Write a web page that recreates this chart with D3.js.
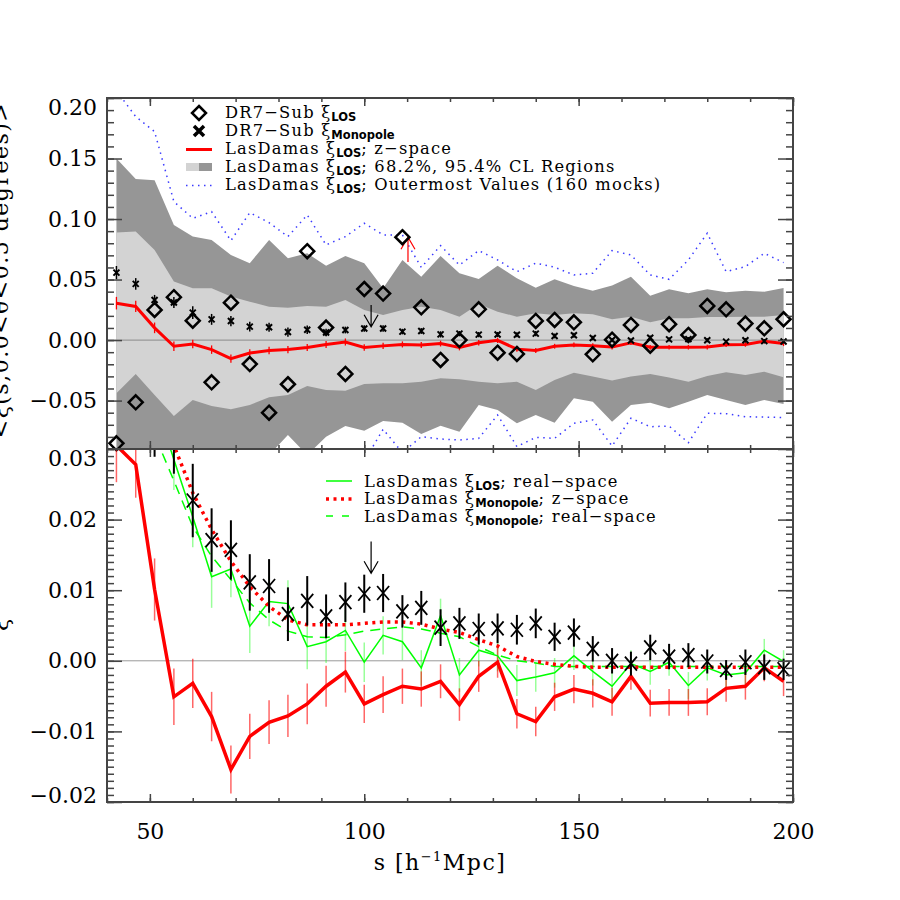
<!DOCTYPE html>
<html>
<head>
<meta charset="utf-8">
<script src="https://cdnjs.cloudflare.com/ajax/libs/d3/7.8.5/d3.min.js"></script>
<style>
  body { margin: 0; background: #fff; }
  svg text { font-family: "DejaVu Serif", serif; fill: #000; }
  .axis .tick line { stroke: #444; stroke-width: 1.5; }
  .axis .tick text { font-size: 22px; font-family: "DejaVu Serif", serif; }
</style>
</head>
<body>
<div class="chart"></div>
<script>
// bin centres in s [h^-1 Mpc]
var sBins = [42.2, 46.7, 51.1, 55.6, 60.0, 64.4, 68.9, 73.3, 77.8, 82.2, 86.7, 91.1,
    95.6, 100.0, 104.4, 108.9, 113.3, 117.8, 122.2, 126.7, 131.1, 135.6, 140.0, 144.4,
    148.9, 153.3, 157.8, 162.2, 166.7, 171.1, 175.6, 180.0, 184.4, 188.9, 193.3, 197.8];

// DR7-Sub xi_LOS (diamonds)
var dr7Los = [-0.0853, -0.0514, 0.0249, 0.0354, 0.0160, -0.0349, 0.0309, -0.0198, -0.0600,
    -0.0365, 0.0734, 0.0103, -0.0280, 0.0422, 0.0384, 0.0850, 0.0271, -0.0164, 0.0000,
    0.0254, -0.0104, -0.0115, 0.0158, 0.0166, 0.0147, -0.0118, 0.0003, 0.0125, -0.0046,
    0.0131, 0.0042, 0.0282, 0.0254, 0.0136, 0.0097, 0.0172];

// DR7-Sub xi_Monopole (crosses) + errors
var dr7Mono = [0.0557, 0.0464, 0.0331, 0.0310, 0.0227, 0.0171, 0.0157, 0.0111, 0.0106,
    0.0066, 0.0085, 0.0063, 0.0083, 0.0095, 0.0096, 0.0070, 0.0075, 0.0047, 0.0053,
    0.0045, 0.0046, 0.0044, 0.0053, 0.0034, 0.0040, 0.0017, 0.0000, -0.0004, 0.0019,
    0.0006, 0.0008, -0.0001, -0.0013, -0.0002, -0.0009, -0.0012];
var dr7MonoErr = [0.0055, 0.0048, 0.0042, 0.0045, 0.0052, 0.0045, 0.0042, 0.0040, 0.0038,
    0.0038, 0.0035, 0.0031, 0.0028, 0.0027, 0.0027, 0.0023, 0.0024, 0.0026, 0.0022,
    0.0022, 0.0021, 0.0021, 0.0021, 0.0020, 0.0020, 0.0018, 0.0018, 0.0017, 0.0018,
    0.0018, 0.0017, 0.0017, 0.0014, 0.0018, 0.0018, 0.0015];

// LasDamas xi_LOS z-space (red solid) + errors
var ldLosZ = [0.0305, 0.0278, 0.0101, -0.0051, -0.0032, -0.0079, -0.0154, -0.0107, -0.0087,
    -0.0078, -0.0061, -0.0036, -0.0016, -0.0061, -0.0048, -0.0036, -0.0040, -0.0029,
    -0.0062, -0.0022, -0.0002, -0.0075, -0.0086, -0.0051, -0.0040, -0.0046, -0.0058,
    -0.0022, -0.0060, -0.0059, -0.0059, -0.0058, -0.0039, -0.0036, -0.0010, -0.0029];
var ldLosZErr = [0.0052, 0.0047, 0.0044, 0.0040, 0.0035, 0.0035, 0.0034, 0.0032, 0.0031,
    0.0030, 0.0029, 0.0029, 0.0029, 0.0027, 0.0026, 0.0025, 0.0025, 0.0024, 0.0023,
    0.0022, 0.0022, 0.0021, 0.0021, 0.0020, 0.0020, 0.0020, 0.0020, 0.0019, 0.0019,
    0.0019, 0.0019, 0.0019, 0.0019, 0.0019, 0.0019, 0.0021];

// LasDamas xi_LOS real-space (green solid) + errors
var ldLosReal = [0.060, 0.048, 0.037, 0.0285, 0.0204, 0.0119, 0.0130, 0.0049, 0.0084,
    0.0081, 0.0020, 0.0027, 0.0043, -0.0002, 0.0036, 0.0027, -0.0010, 0.0064, -0.0020,
    0.0015, 0.0007, -0.0028, -0.0023, -0.0017, 0.0007, -0.0015, -0.0036, -0.0004,
    -0.0015, -0.0002, -0.0035, -0.0010, -0.0020, -0.0017, 0.0015, -0.0001];
var ldLosRealErr = [0.0055, 0.0050, 0.0046, 0.0043, 0.0043, 0.0044, 0.0040, 0.0038, 0.0035,
    0.0033, 0.0032, 0.0030, 0.0029, 0.0028, 0.0027, 0.0026, 0.0025, 0.0024, 0.0024,
    0.0023, 0.0022, 0.0022, 0.0021, 0.0021, 0.0020, 0.0020, 0.0020, 0.0019, 0.0019,
    0.0019, 0.0019, 0.0018, 0.0018, 0.0017, 0.0016, 0.0016];

// LasDamas monopole z-space (red dotted) and real-space (green dashed)
var ldMonoZ = [0.065, 0.050, 0.039, 0.0305, 0.0238, 0.0186, 0.0141, 0.0105, 0.0077,
    0.0058, 0.0051, 0.0051, 0.0051, 0.0053, 0.0055, 0.0055, 0.0052, 0.0045, 0.0040,
    0.0030, 0.0021, 0.0006, -0.0001, -0.0005, -0.0008, -0.0009, -0.0009, -0.0009,
    -0.0009, -0.0009, -0.0009, -0.0009, -0.0009, -0.0009, -0.0009, -0.0009];
var ldMonoReal = [0.055, 0.042, 0.032, 0.0255, 0.0190, 0.0148, 0.0115, 0.0082, 0.0058,
    0.0042, 0.0034, 0.0033, 0.0037, 0.0042, 0.0045, 0.0048, 0.0045, 0.0039, 0.0034,
    0.0020, 0.0008, 0.0000, -0.0003, -0.0008, -0.0008, -0.0008, -0.0008, -0.0008,
    -0.0008, -0.0008, -0.0008, -0.0008, -0.0008, -0.0008, -0.0008, -0.0008];

// LasDamas xi_LOS CL regions (top panel)
var band95Hi = [0.150, 0.133, 0.132, 0.095, 0.0855, 0.0827, 0.0703, 0.0635, 0.0827, 0.0676,
    0.0717, 0.0615, 0.0695, 0.0635, 0.0428, 0.0662, 0.0524, 0.0695, 0.0552, 0.0505, 0.0615,
    0.0511, 0.0433, 0.0502, 0.0447, 0.0408, 0.0450, 0.0524, 0.0367, 0.0420, 0.0387, 0.0420,
    0.0395, 0.0408, 0.0400, 0.0431];
var band68Hi = [0.0888, 0.0896, 0.0745, 0.0483, 0.0428, 0.0428, 0.0359, 0.0317, 0.0276,
    0.0268, 0.0282, 0.0276, 0.0331, 0.0249, 0.0207, 0.0249, 0.0276, 0.0249, 0.0193, 0.0298,
    0.0235, 0.0193, 0.0221, 0.0207, 0.0221, 0.0213, 0.0172, 0.0193, 0.0147, 0.0180, 0.0180,
    0.0190, 0.0190, 0.0193, 0.0193, 0.0207];
var band68Lo = [-0.0440, -0.0280, -0.0454, -0.0627, -0.0495, -0.0545, -0.0572, -0.0536,
    -0.0473, -0.0454, -0.0380, -0.0412, -0.0418, -0.0363, -0.0357, -0.0357, -0.0344,
    -0.0316, -0.0324, -0.0344, -0.0357, -0.0344, -0.0412, -0.0330, -0.0269, -0.0302,
    -0.0335, -0.0302, -0.0280, -0.0310, -0.0344, -0.0297, -0.0266, -0.0288, -0.0261, -0.0307];
var band95Lo = [-0.100, -0.100, -0.100, -0.100, -0.100, -0.100, -0.100, -0.100, -0.095,
    -0.0785, -0.095, -0.0798, -0.0710, -0.0749, -0.0669, -0.0683, -0.0776, -0.0707, -0.0757,
    -0.0536, -0.0578, -0.0688, -0.0619, -0.0683, -0.0481, -0.0509, -0.0674, -0.0536,
    -0.0517, -0.0564, -0.0509, -0.0454, -0.0495, -0.0536, -0.0495, -0.0528];

// outermost values of 160 mocks (blue dotted)
var outerHi = [0.206, 0.1846, 0.1722, 0.1144, 0.1006, 0.1061, 0.0822, 0.1053, 0.0970, 0.0855,
    0.1034, 0.0786, 0.0855, 0.0965, 0.0869, 0.0869, 0.0600, 0.0780, 0.0620, 0.0739, 0.0662,
    0.0565, 0.0635, 0.0602, 0.0538, 0.0552, 0.0739, 0.0703, 0.0538, 0.0502, 0.0662, 0.0883,
    0.0565, 0.0607, 0.0717, 0.0640];
var outerLo = [-0.110, -0.110, -0.110, -0.110, -0.110, -0.110, -0.110, -0.110, -0.110, -0.0890,
    -0.110, -0.110, -0.110, -0.100, -0.0737, -0.0930, -0.0798, -0.0817, -0.0826, -0.0812,
    -0.0619, -0.0880, -0.0804, -0.0812, -0.0688, -0.0660, -0.0875, -0.0646, -0.0716, -0.0710,
    -0.0848, -0.0605, -0.0608, -0.0633, -0.0636, -0.0640];

// arrows: [s, from, to, colour]
var arrowsTop = [[101.6, 0.029, 0.011, "#000"], [110.2, 0.0645, 0.085, "#ff0000"]];
var arrowsBot = [[101.6, 0.0169, 0.0124, "#000"]];

// tick labels
var xTicks = [50, 100, 150, 200];
var topTicks = [-0.05, 0.00, 0.05, 0.10, 0.15, 0.20];
var botTicks = [-0.02, -0.01, 0.00, 0.01, 0.02, 0.03];

var svgWidth = 900, svgHeight = 900;
var svg = d3.select(".chart").append("svg")
    .attr("width", svgWidth)
    .attr("height", svgHeight);

var x = d3.scaleLinear().domain([40, 200]).range([107, 793]);
var yTop = d3.scaleLinear().domain([-0.09, 0.20]).range([449, 98]);
var yBot = d3.scaleLinear().domain([-0.02, 0.03]).range([802, 449]);

var defs = svg.append("defs");
defs.append("clipPath").attr("id", "clipTop").append("rect")
    .attr("x", x.range()[0]).attr("y", yTop.range()[1])
    .attr("width", x.range()[1] - x.range()[0]).attr("height", yTop.range()[0] - yTop.range()[1]);
defs.append("clipPath").attr("id", "clipBot").append("rect")
    .attr("x", x.range()[0]).attr("y", yBot.range()[1])
    .attr("width", x.range()[1] - x.range()[0]).attr("height", yBot.range()[0] - yBot.range()[1]);

function rows(vals, errs) {
    return sBins.map(function(s, i) {
        return {s: s, v: vals[i], e: errs ? errs[i] : 0};
    });
}

function lineFor(yScale) {
    return d3.line().x(function(d) { return x(d.s); }).y(function(d) { return yScale(d.v); });
}

function errBars(g, data, yScale, color, width) {
    g.append("g").selectAll("line").data(data).enter().append("line")
        .attr("x1", function(d) { return x(d.s); })
        .attr("x2", function(d) { return x(d.s); })
        .attr("y1", function(d) { return yScale(d.v - d.e); })
        .attr("y2", function(d) { return yScale(d.v + d.e); })
        .attr("stroke", color)
        .attr("stroke-width", width);
}

function drawArrows(g, list, yScale) {
    list.forEach(function(a) {
        var ax = x(a[0]), y1 = yScale(a[1]), y2 = yScale(a[2]);
        var dir = y2 > y1 ? -1 : 1;
        g.append("path")
            .attr("d", "M" + ax + "," + y1 + "L" + ax + "," + y2 +
                "M" + (ax - 7) + "," + (y2 + dir * 12) + "L" + ax + "," + y2 + "L" + (ax + 7) + "," + (y2 + dir * 12))
            .attr("fill", "none")
            .attr("stroke", a[3])
            .attr("stroke-width", 1.2);
    });
}

//////////////////////////////////////////////////////////////////
// Top panel
//////////////////////////////////////////////////////////////////
var gTop = svg.append("g").attr("clip-path", "url(#clipTop)");

var band = d3.area()
    .x(function(d) { return x(d.s); })
    .y0(function(d) { return yTop(d.lo); })
    .y1(function(d) { return yTop(d.hi); });

gTop.append("path")
    .datum(sBins.map(function(s, i) { return {s: s, lo: band95Lo[i], hi: band95Hi[i]}; }))
    .attr("d", band)
    .attr("fill", "#969696");
gTop.append("path")
    .datum(sBins.map(function(s, i) { return {s: s, lo: band68Lo[i], hi: band68Hi[i]}; }))
    .attr("d", band)
    .attr("fill", "#d3d3d3");

gTop.append("line")
    .attr("x1", x.range()[0]).attr("x2", x.range()[1])
    .attr("y1", yTop(0)).attr("y2", yTop(0))
    .attr("stroke", "#999").attr("stroke-width", 1.2);

[outerHi, outerLo].forEach(function(arr) {
    gTop.append("path")
        .datum(rows(arr))
        .attr("d", lineFor(yTop))
        .attr("fill", "none")
        .attr("stroke", "#3a3aff")
        .attr("stroke-width", 1.5)
        .attr("stroke-dasharray", "1.5,4.5");
});

var losTop = rows(ldLosZ, ldLosZErr);
gTop.append("path")
    .datum(losTop)
    .attr("d", lineFor(yTop))
    .attr("fill", "none")
    .attr("stroke", "#ff0000")
    .attr("stroke-width", 3);
errBars(gTop, losTop, yTop, "#ff0000", 1.3);

var monoTop = rows(dr7Mono, dr7MonoErr);
errBars(gTop, monoTop, yTop, "#000", 1.5);
gTop.append("g").selectAll("path").data(monoTop).enter().append("path")
    .attr("transform", function(d) { return "translate(" + x(d.s) + "," + yTop(d.v) + ")"; })
    .attr("d", "M-3,-3L3,3M3,-3L-3,3")
    .attr("stroke", "#000")
    .attr("stroke-width", 2);

drawArrows(gTop, arrowsTop, yTop);

// diamonds are not clipped (first one sits on the panel edge)
svg.append("g").selectAll("path").data(rows(dr7Los)).enter().append("path")
    .attr("transform", function(d) { return "translate(" + x(d.s) + "," + yTop(d.v) + ")"; })
    .attr("d", "M0,-7L7,0L0,7L-7,0Z")
    .attr("fill", "none")
    .attr("stroke", "#000")
    .attr("stroke-width", 2.5);

//////////////////////////////////////////////////////////////////
// Bottom panel
//////////////////////////////////////////////////////////////////
var gBot = svg.append("g").attr("clip-path", "url(#clipBot)");

gBot.append("line")
    .attr("x1", x.range()[0]).attr("x2", x.range()[1])
    .attr("y1", yBot(0)).attr("y2", yBot(0))
    .attr("stroke", "#999").attr("stroke-width", 1);

var realBot = rows(ldLosReal, ldLosRealErr);
var losBot = rows(ldLosZ, ldLosZErr);
var monoBot = rows(dr7Mono, dr7MonoErr);

errBars(gBot, realBot, yBot, "rgba(0,255,0,0.4)", 1.5);
errBars(gBot, losBot, yBot, "rgba(255,0,0,0.6)", 1.5);

gBot.append("path").datum(realBot).attr("d", lineFor(yBot))
    .attr("fill", "none").attr("stroke", "#00ff00").attr("stroke-width", 1.5);
gBot.append("path").datum(rows(ldMonoReal)).attr("d", lineFor(yBot))
    .attr("fill", "none").attr("stroke", "#00ff00").attr("stroke-width", 1.5)
    .attr("stroke-dasharray", "10,7");
gBot.append("path").datum(rows(ldMonoZ)).attr("d", lineFor(yBot))
    .attr("fill", "none").attr("stroke", "#ff0000").attr("stroke-width", 3.5)
    .attr("stroke-dasharray", "3,4.5");
gBot.append("path").datum(losBot).attr("d", lineFor(yBot))
    .attr("fill", "none").attr("stroke", "#ff0000").attr("stroke-width", 3.5);

errBars(gBot, monoBot, yBot, "#000", 2);
gBot.append("g").selectAll("path").data(monoBot).enter().append("path")
    .attr("transform", function(d) { return "translate(" + x(d.s) + "," + yBot(d.v) + ")"; })
    .attr("d", "M-6,-7L6,7M6,-7L-6,7")
    .attr("stroke", "#000")
    .attr("stroke-width", 1.8);

drawArrows(gBot, arrowsBot, yBot);

//////////////////////////////////////////////////////////////////
// Axes (IDL style, ticks inward on all four sides)
//////////////////////////////////////////////////////////////////
function noDomain(g) { g.select(".domain").remove(); }

function frameAxes(yScale, yMajor, yMinorCount, showX) {
    var top = yScale.range()[1], bot = yScale.range()[0];
    var left = x.range()[0], right = x.range()[1];

    svg.append("g").attr("class", "axis").attr("transform", "translate(" + left + ",0)")
        .call(d3.axisLeft(yScale).ticks(yMinorCount).tickSize(-7).tickFormat("")).call(noDomain);
    var yl = svg.append("g").attr("class", "axis").attr("transform", "translate(" + left + ",0)")
        .call(d3.axisLeft(yScale).tickValues(yMajor).tickSize(-15).tickPadding(10)
            .tickFormat(d3.format(".2f"))).call(noDomain);
    svg.append("g").attr("class", "axis").attr("transform", "translate(" + right + ",0)")
        .call(d3.axisRight(yScale).ticks(yMinorCount).tickSize(-7).tickFormat("")).call(noDomain);
    svg.append("g").attr("class", "axis").attr("transform", "translate(" + right + ",0)")
        .call(d3.axisRight(yScale).tickValues(yMajor).tickSize(-15).tickFormat("")).call(noDomain);

    svg.append("g").attr("class", "axis").attr("transform", "translate(0," + top + ")")
        .call(d3.axisTop(x).ticks(16).tickSize(-4).tickFormat("")).call(noDomain);
    svg.append("g").attr("class", "axis").attr("transform", "translate(0," + top + ")")
        .call(d3.axisTop(x).tickValues(xTicks).tickSize(-8).tickFormat("")).call(noDomain);
    svg.append("g").attr("class", "axis").attr("transform", "translate(0," + bot + ")")
        .call(d3.axisBottom(x).ticks(16).tickSize(-4).tickFormat("")).call(noDomain);
    svg.append("g").attr("class", "axis").attr("transform", "translate(0," + bot + ")")
        .call(d3.axisBottom(x).tickValues(xTicks).tickSize(-8).tickPadding(21)
            .tickFormat(showX ? d3.format("d") : "")).call(noDomain);

    svg.append("rect")
        .attr("x", left).attr("y", top)
        .attr("width", right - left).attr("height", bot - top)
        .attr("fill", "none")
        .attr("stroke", "#444")
        .attr("stroke-width", 2);
    return yl;
}

var ylTop = frameAxes(yTop, topTicks, 29, false);
var ylBot = frameAxes(yBot, botTicks, 50, true);

// end labels are pulled inside the frame
ylTop.selectAll(".tick text").filter(function(d) { return d === 0.20; }).attr("y", 9);
ylBot.selectAll(".tick text").filter(function(d) { return d === 0.03; }).attr("y", 9);
ylBot.selectAll(".tick text").filter(function(d) { return d === -0.02; }).attr("y", -7);

// axis titles
var xt = svg.append("text")
    .attr("x", 440).attr("y", 870)
    .attr("text-anchor", "middle")
    .style("font-size", "22px")
    .style("letter-spacing", "1.5px");
xt.append("tspan").text("s [h");
xt.append("tspan").attr("dy", -9).style("font-size", "13px").text("−1");
xt.append("tspan").attr("dy", 9).text("Mpc]");

// y titles sit against the page edge, as in the original figure
svg.append("text")
    .attr("transform", "translate(8,270) rotate(-90)")
    .attr("text-anchor", "middle")
    .style("font-size", "22px")
    .style("letter-spacing", "1.5px")
    .text("<ξ(s,0.0<θ<0.5 degrees)>");
svg.append("text")
    .attr("transform", "translate(8,625) rotate(-90)")
    .attr("text-anchor", "middle")
    .style("font-size", "22px")
    .text("ξ");

//////////////////////////////////////////////////////////////////
// Legends
//////////////////////////////////////////////////////////////////
function xiText(tx, ty, pre, sub, post) {
    var t = svg.append("text")
        .attr("x", tx).attr("y", ty)
        .style("font-size", "16.3px")
        .style("letter-spacing", "1.2px")
        .style("white-space", "pre");
    t.append("tspan").text(pre + "ξ");
    t.append("tspan").attr("dy", 3)
        .style("font-family", "'DejaVu Sans', sans-serif")
        .style("font-weight", "bold")
        .style("font-size", "11.5px")
        .style("letter-spacing", "0px")
        .text(sub);
    t.append("tspan").attr("dy", -3).text(post);
}

var legTop = [
    ["DR7−Sub ", "LOS", ""],
    ["DR7−Sub ", "Monopole", ""],
    ["LasDamas ", "LOS", "; z−space"],
    ["LasDamas ", "LOS", "; 68.2%, 95.4% CL Regions"],
    ["LasDamas ", "LOS", "; Outermost Values (160 mocks)"]
];
var legBot = [
    ["LasDamas ", "LOS", "; real−space"],
    ["LasDamas ", "Monopole", "; z−space"],
    ["LasDamas ", "Monopole", "; real−space"]
];

legTop.forEach(function(r, i) { xiText(225, 117.5 + i * 18.1, r[0], r[1], r[2]); });
legBot.forEach(function(r, i) { xiText(364, 486.7 + i * 17.5, r[0], r[1], r[2]); });

// top legend keys
svg.append("path").attr("transform", "translate(199,113)")
    .attr("d", "M0,-7L7,0L0,7L-7,0Z").attr("fill", "none").attr("stroke", "#000").attr("stroke-width", 2.5);
svg.append("path").attr("transform", "translate(199,131)")
    .attr("d", "M-5,-5L5,5M5,-5L-5,5").attr("stroke", "#000").attr("stroke-width", 3.5);
svg.append("line").attr("x1", 186).attr("x2", 212).attr("y1", 149.5).attr("y2", 149.5)
    .attr("stroke", "#ff0000").attr("stroke-width", 3);
svg.append("rect").attr("x", 186).attr("y", 163).attr("width", 13).attr("height", 8).attr("fill", "#d3d3d3");
svg.append("rect").attr("x", 199).attr("y", 163).attr("width", 13).attr("height", 8).attr("fill", "#969696");
svg.append("line").attr("x1", 186).attr("x2", 212).attr("y1", 185.5).attr("y2", 185.5)
    .attr("stroke", "#3a3aff").attr("stroke-width", 1.5).attr("stroke-dasharray", "1.5,4.5");

// bottom legend keys
svg.append("line").attr("x1", 326).attr("x2", 352).attr("y1", 481).attr("y2", 481)
    .attr("stroke", "#00ff00").attr("stroke-width", 1.5);
svg.append("line").attr("x1", 326).attr("x2", 352).attr("y1", 499).attr("y2", 499)
    .attr("stroke", "#ff0000").attr("stroke-width", 3.5).attr("stroke-dasharray", "3,4.5");
svg.append("line").attr("x1", 326).attr("x2", 352).attr("y1", 516).attr("y2", 516)
    .attr("stroke", "#00ff00").attr("stroke-width", 1.5).attr("stroke-dasharray", "7,9");
</script>
</body>
</html>
